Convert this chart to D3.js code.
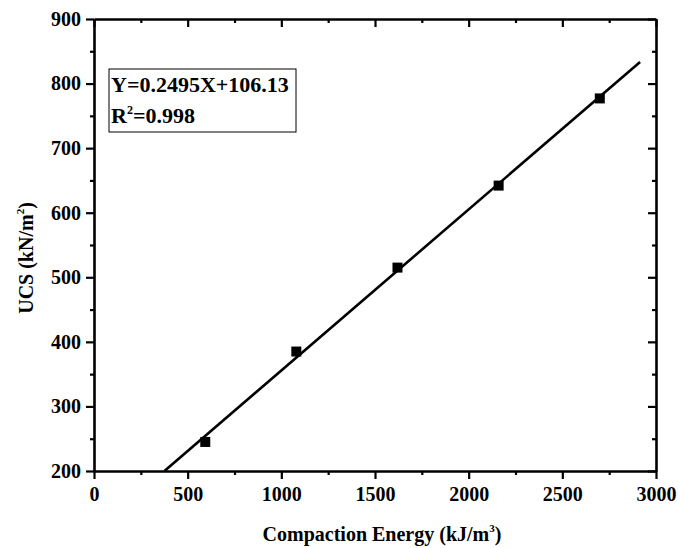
<!DOCTYPE html>
<html><head><meta charset="utf-8">
<script src="https://cdn.jsdelivr.net/npm/d3@7"></script>
<style>body{margin:0;background:#fff}svg{display:block}</style>
</head><body>
<svg id="c" width="678" height="548"></svg>
<script>
const energy = [594, 1080, 1620, 2160, 2700];
const ucs = [245, 385, 515, 642, 777];
const slope = 0.2495, intercept = 106.13;
const fitRange = [376, 2915];
const xTicks = [0, 500, 1000, 1500, 2000, 2500, 3000];
const yTicks = [200, 300, 400, 500, 600, 700, 800, 900];
const eqText = "Y=0.2495X+106.13";
const r2Text = "=0.998";

const svg = d3.select("#c");
const m = {l: 94, r: 656, t: 19, b: 471};
const x = d3.scaleLinear().domain([0, 3000]).range([m.l, m.r]);
const y = d3.scaleLinear().domain([200, 900]).range([m.b, m.t]);
const font = "'Liberation Serif','Times New Roman',serif";
const minorX = d3.range(250, 3000, 500);
const minorY = d3.range(250, 900, 100);
const fmt = d3.format("d");

// fit line
svg.append("path")
  .attr("d", d3.line()(fitRange.map(v => [x(v), y(slope * v + intercept)])))
  .attr("stroke", "#000").attr("stroke-width", 2.6).attr("fill", "none");

// points
svg.selectAll("rect.pt").data(energy).enter().append("rect")
  .attr("class", "pt")
  .attr("x", (d) => x(d) - 5).attr("y", (d, i) => y(ucs[i]) - 5)
  .attr("width", 10).attr("height", 10).attr("fill", "#000");

// axes
function styleAxis(g) {
  g.attr("font-family", font);
  g.select(".domain").attr("stroke-width", 2.6);
  g.selectAll(".tick line").attr("stroke-width", 2.2);
  g.selectAll(".tick text").attr("font-family", font).attr("font-weight", "bold")
    .attr("font-size", 20).attr("fill", "#000");
}
svg.append("g").attr("transform", `translate(0,${m.b})`)
  .call(d3.axisBottom(x).tickValues(xTicks).tickSize(8).tickSizeOuter(0).tickPadding(8).tickFormat(fmt))
  .call(styleAxis);
svg.append("g").attr("transform", `translate(0,${m.b})`)
  .call(d3.axisBottom(x).tickValues(minorX).tickSize(4).tickSizeOuter(0).tickFormat(""))
  .call(styleAxis).select(".domain").remove();
svg.append("g").attr("transform", `translate(${m.l},0)`)
  .call(d3.axisLeft(y).tickValues(yTicks).tickSize(8).tickSizeOuter(0).tickPadding(5).tickFormat(fmt))
  .call(styleAxis);
svg.append("g").attr("transform", `translate(${m.l},0)`)
  .call(d3.axisLeft(y).tickValues(minorY).tickSize(4).tickSizeOuter(0).tickFormat(""))
  .call(styleAxis).select(".domain").remove();
// top (ticks inward)
svg.append("g").attr("transform", `translate(0,${m.t})`)
  .call(d3.axisBottom(x).tickValues(xTicks).tickSize(8).tickSizeOuter(0).tickFormat(""))
  .call(styleAxis);
svg.append("g").attr("transform", `translate(0,${m.t})`)
  .call(d3.axisBottom(x).tickValues(minorX).tickSize(4).tickSizeOuter(0).tickFormat(""))
  .call(styleAxis).select(".domain").remove();
// right (ticks inward)
svg.append("g").attr("transform", `translate(${m.r},0)`)
  .call(d3.axisLeft(y).tickValues(yTicks).tickSize(8).tickSizeOuter(0).tickFormat(""))
  .call(styleAxis);
svg.append("g").attr("transform", `translate(${m.r},0)`)
  .call(d3.axisLeft(y).tickValues(minorY).tickSize(4).tickSizeOuter(0).tickFormat(""))
  .call(styleAxis).select(".domain").remove();

// equation box
svg.append("rect").attr("x", 109).attr("y", 69).attr("width", 187).attr("height", 63)
  .attr("fill", "#fff").attr("stroke", "#000").attr("stroke-width", 1);
svg.append("text").attr("x", 111).attr("y", 92).attr("font-family", font)
  .attr("font-weight", "bold").attr("font-size", 22).text(eqText);
const r2 = svg.append("text").attr("x", 111).attr("y", 123).attr("font-family", font)
  .attr("font-weight", "bold").attr("font-size", 22);
r2.append("tspan").text("R");
r2.append("tspan").attr("dy", -9).attr("font-size", 12).text("2");
r2.append("tspan").attr("dy", 9).text(r2Text);

// axis titles
const xt = svg.append("text").attr("x", 382).attr("y", 541).attr("text-anchor", "middle")
  .attr("font-family", font).attr("font-weight", "bold").attr("font-size", 20);
xt.append("tspan").text("Compaction Energy (kJ/m");
xt.append("tspan").attr("dy", -9).attr("font-size", 11).text("3");
xt.append("tspan").attr("dy", 9).text(")");

const yt = svg.append("text").attr("transform", "translate(33,258) rotate(-90)")
  .attr("text-anchor", "middle").attr("font-family", font).attr("font-weight", "bold").attr("font-size", 20);
yt.append("tspan").text("UCS (kN/m");
yt.append("tspan").attr("dy", -9).attr("font-size", 11).text("2");
yt.append("tspan").attr("dy", 9).text(")");
</script>
</body></html>
